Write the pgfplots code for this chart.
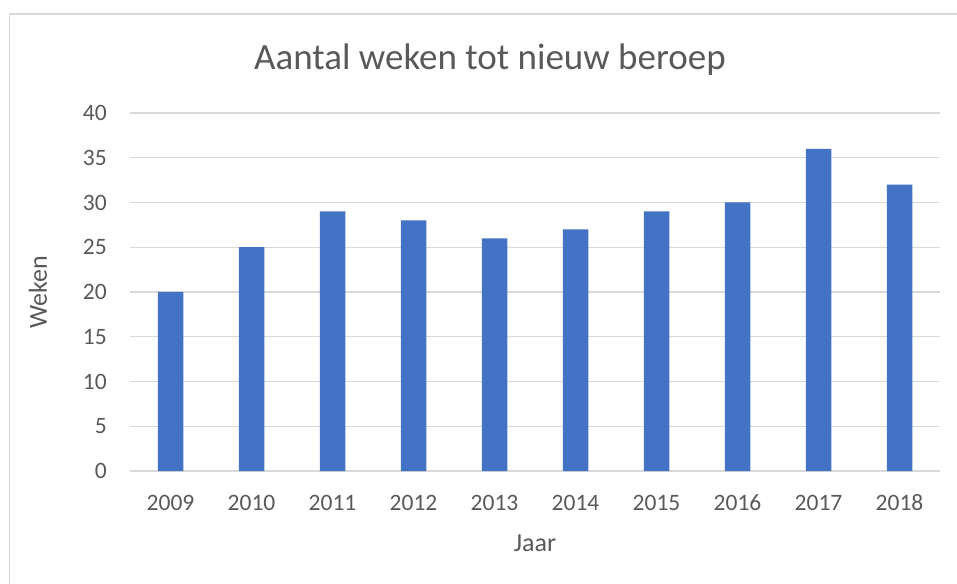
\documentclass[border=0pt]{standalone}
\usepackage{pgfplots}
\pgfplotsset{compat=1.18}
\usepackage{fontspec}
\setmainfont{Carlito}
\definecolor{barblue}{HTML}{4472C4}
\definecolor{gridgray}{HTML}{D9D9D9}
\definecolor{txtgray}{HTML}{595959}
\begin{document}
\begin{tikzpicture}
\useasboundingbox (-130pt,-112pt) rectangle (827pt,471pt);
\begin{axis}[
  scale only axis,
  width=810pt, height=358pt,
  xmin=-0.5, xmax=9.5,
  ymin=0, ymax=40,
  ytick={0,5,...,40},
  xtick={0,...,9},
  xticklabels={2009,2010,2011,2012,2013,2014,2015,2016,2017,2018},
  ymajorgrids,
  grid style={gridgray, line width=1.3pt},
  axis line style={draw=none},
  major tick length=0pt,
  /pgf/number format/assume math mode=true,
  ticklabel style={font=\fontsize{23.5}{28}\selectfont, text=txtgray},
  yticklabel style={anchor=east, inner sep=0pt, xshift=-23pt},
  xticklabel style={anchor=base, inner sep=0pt, yshift=-39pt},
  ybar, bar width=25.5pt,
]
\addplot[fill=barblue, draw=none] coordinates {
(0,20) (1,25) (2,29) (3,28) (4,26) (5,27) (6,29) (7,30) (8,36) (9,32)
};
\end{axis}
\draw[gridgray, line width=1.5pt] (-120.5pt,-120pt) -- (-120.5pt,457pt) -- (840pt,457pt);
\node[text=txtgray, font=\fontsize{37}{44}\selectfont] at (360pt,411pt) {Aantal weken tot nieuw beroep};
\node[text=txtgray, font=\fontsize{26}{31}\selectfont, rotate=90] at (-92pt,179pt) {Weken};
\node[text=txtgray, font=\fontsize{26}{31}\selectfont] at (405pt,-72pt) {Jaar};
\end{tikzpicture}
\end{document}
